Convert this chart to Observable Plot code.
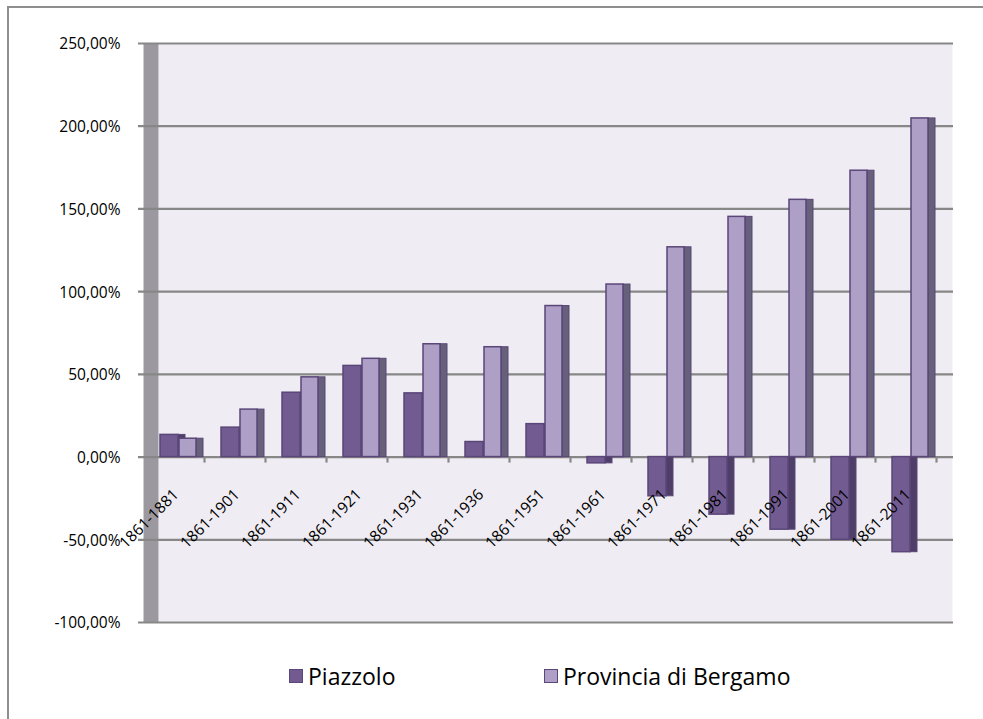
<!DOCTYPE html>
<html>
<head>
<meta charset="utf-8">
<script src="https://cdn.jsdelivr.net/npm/d3@7"></script>
<script src="https://cdn.jsdelivr.net/npm/@observablehq/plot@0.6"></script>
<style>
  body { margin: 0; background: #fff; font-family: "Open Sans", sans-serif; }
  #wrap { position: relative; width: 983px; height: 719px; overflow: hidden; background: #fff; }
  #frame { position: absolute; left: 7px; top: 6px; width: 990px; height: 720px; border-left: 2px solid #8e8e8e; border-top: 2px solid #8e8e8e; box-sizing: border-box; }
  #chart { position: absolute; left: 0; top: 0; }
  #legend { position: absolute; top: 660px; left: 0; width: 983px; font-size: 23px; color: #000; }
  .item { position: absolute; display: flex; align-items: center; }
  .sw { width: 14px; height: 14px; border: 1.5px solid #5a4678; margin-right: 5px; box-sizing: border-box; }
</style>
</head>
<body>
<div id="wrap">
  <div id="frame"></div>
  <div id="chart"></div>
  <div id="legend"></div>
</div>
<script>
const categories = ["1861-1881","1861-1901","1861-1911","1861-1921","1861-1931","1861-1936","1861-1951","1861-1961","1861-1971","1861-1981","1861-1991","1861-2001","1861-2011"];
const piazzolo = [13.4, 17.8, 38.9, 55.1, 38.5, 9.1, 19.9, -3.8, -23.7, -34.8, -43.9, -50.0, -57.5];
const provincia = [11.1, 28.7, 48.2, 59.4, 68.2, 66.4, 91.3, 104.3, 126.8, 145.2, 155.5, 173.1, 204.7];
const yTicks = [-100, -50, 0, 50, 100, 150, 200, 250];
const seriesNames = ["Piazzolo", "Provincia di Bergamo"];
const colors = {piazFront: "#725b90", piazSide: "#4f3f68", provFront: "#ad9fc5", provSide: "#67607a", edge: "#5a4678"};

const rows = categories.map((c, i) => ({cat: c, piaz: piazzolo[i], prov: provincia[i]}));
const fmt = d => d.toFixed(2).replace(".", ",") + "%";

const chart = Plot.plot({
  width: 983,
  height: 650,
  marginLeft: 143,
  marginRight: 47,
  marginTop: 43,
  marginBottom: 28,
  style: {fontFamily: "Open Sans, sans-serif", background: "transparent"},
  x: {domain: categories, padding: 0, axis: null},
  y: {domain: [-100, 250], axis: null},
  marks: [
    Plot.frame({fill: "#efedf3", stroke: null, insetLeft: 15, insetRight: -16}),
    Plot.frame({fill: "#9b999f", stroke: null, insetRight: 778}),
    Plot.ruleY(yTicks, {stroke: "#878787", strokeWidth: 2.2, insetLeft: -5, insetRight: -17}),
    Plot.ruleX(categories, {x: d => d, y1: 0, y2: 0, dx: 30.5, insetBottom: -6, stroke: "#878787", strokeWidth: 2.2}),
    Plot.barY(rows, {x: "cat", y: "piaz", insetLeft: 35, insetRight: 19, fill: colors.piazSide, stroke: colors.edge, strokeWidth: 1}),
    Plot.barY(rows, {x: "cat", y: "piaz", insetLeft: 17, insetRight: 26, fill: colors.piazFront, stroke: colors.edge, strokeWidth: 1.5}),
    Plot.barY(rows, {x: "cat", y: "prov", insetLeft: 53, insetRight: 1, fill: colors.provSide, stroke: colors.edge, strokeWidth: 1}),
    Plot.barY(rows, {x: "cat", y: "prov", insetLeft: 36, insetRight: 8, fill: colors.provFront, stroke: colors.edge, strokeWidth: 1.5}),
    Plot.text(yTicks, {y: d => d, frameAnchor: "left", text: fmt, textAnchor: "end", dx: -23, dy: 1, fontSize: 15.5, fill: "#000"}),
    Plot.text(categories, {x: d => d, y: 0, text: d => d, rotate: -45, textAnchor: "end", dx: 2, dy: 35, fontSize: 15.5, fill: "#000"})
  ]
});
document.getElementById("chart").appendChild(chart);

const legend = document.getElementById("legend");
const legendItems = [
  {name: seriesNames[0], color: colors.piazFront, left: 289},
  {name: seriesNames[1], color: colors.provFront, left: 544}
];
for (const it of legendItems) {
  const d = document.createElement("div");
  d.className = "item";
  d.style.left = it.left + "px";
  const sw = document.createElement("div");
  sw.className = "sw";
  sw.style.background = it.color;
  const t = document.createElement("span");
  t.textContent = it.name;
  d.appendChild(sw);
  d.appendChild(t);
  legend.appendChild(d);
}
</script>
</body>
</html>
